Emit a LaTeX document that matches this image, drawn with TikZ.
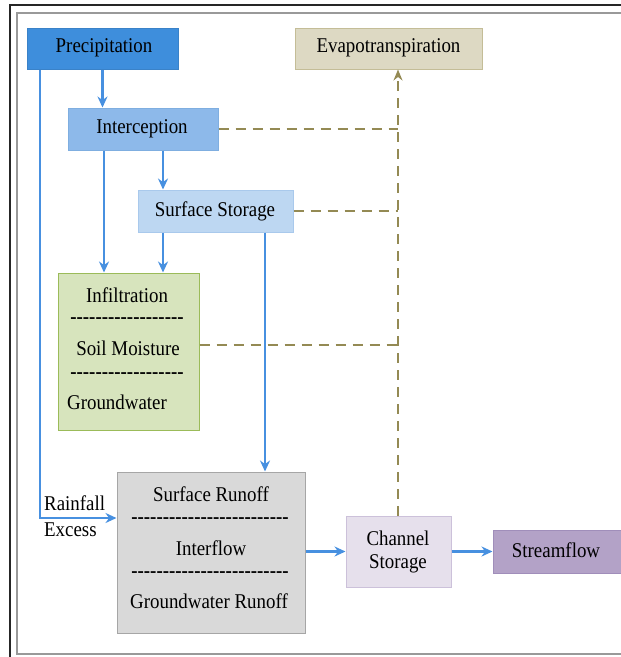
\documentclass[tikz,border=0pt]{standalone}
\usepackage{fontspec}
\setmainfont{Liberation Serif}[FakeStretch=0.9]
\newfontfamily\hyphfont{Liberation Serif}[FakeStretch=0.9]
\usetikzlibrary{arrows.meta}
\definecolor{cPrec}{HTML}{3E8EDC}
\definecolor{cPrecB}{HTML}{3A82C8}
\definecolor{cInt}{HTML}{8DB9EA}
\definecolor{cIntB}{HTML}{7FAEE0}
\definecolor{cSto}{HTML}{BDD7F2}
\definecolor{cStoB}{HTML}{A9C9EC}
\definecolor{cInf}{HTML}{D7E4BD}
\definecolor{cInfB}{HTML}{9BBB59}
\definecolor{cRun}{HTML}{D9D9D9}
\definecolor{cRunB}{HTML}{A6A6A6}
\definecolor{cCha}{HTML}{E6E0EC}
\definecolor{cChaB}{HTML}{CCC1DA}
\definecolor{cStr}{HTML}{B3A2C7}
\definecolor{cStrB}{HTML}{A08EBA}
\definecolor{cEva}{HTML}{DDD9C3}
\definecolor{cEvaB}{HTML}{C4BD97}
\definecolor{cFlow}{HTML}{4790E0}
\definecolor{cDash}{HTML}{948A54}
\tikzset{
  box/.style={draw, line width=1pt, inner sep=0pt, rectangle},
  lbl/.style={inner sep=0pt, font=\fontsize{21}{24}\selectfont},
  sep/.style={inner sep=0pt, font=\hyphfont\fontsize{21}{24}\selectfont\bfseries},
  flow/.style={draw=cFlow, line width=2.4pt, -{Stealth[length=11pt,width=10pt]}},
  evap/.style={draw=cDash, line width=2.8pt, dash pattern=on 10pt off 7pt},
}
\begin{document}
\begin{tikzpicture}[x=1pt,y=-1pt]
\useasboundingbox (0,0) rectangle (621,657);
% frame
\draw[line width=2pt, black!85] (10,657) -- (10,5) -- (625,5);
\draw[line width=1.5pt, black!40] (625,13) -- (17,13) -- (17,654) -- (625,654);
% boxes
\node[box, fill=cPrec, draw=cPrecB, minimum width=151pt, minimum height=41pt] (prec) at (102.5,48.5) {};
\node[lbl] (precT) at (104,48) {Precipitation};
\node[box, fill=cEva, draw=cEvaB, minimum width=187pt, minimum height=41pt] (evap) at (388.5,48.5) {};
\node[lbl] (evapT) at (388.5,48) {Evapotranspiration};
\node[box, fill=cInt, draw=cIntB, minimum width=150pt, minimum height=42pt] (inter) at (143,129) {};
\node[lbl] (interT) at (142,129) {Interception};
\node[box, fill=cSto, draw=cStoB, minimum width=155pt, minimum height=42pt] (store) at (215.5,211) {};
\node[lbl] (storeT) at (215,211) {Surface Storage};
\node[box, fill=cInf, draw=cInfB, minimum width=141pt, minimum height=157pt] (infil) at (128.5,351.5) {};
\node[lbl] (infA) at (127,295) {Infiltration};
\node[sep] (infS1) at (127,321) {------------------};
\node[lbl] (infB) at (128,348) {Soil Moisture};
\node[sep] (infS2) at (127,376) {------------------};
\node[lbl] (infC) at (117,402) {Groundwater};
\node[box, fill=cRun, draw=cRunB, minimum width=188pt, minimum height=161pt] (runoff) at (211,552.5) {};
\node[lbl] (runA) at (211,494) {Surface Runoff};
\node[sep] (runS1) at (210,521) {-------------------------};
\node[lbl] (runB) at (211,548) {Interflow};
\node[sep] (runS2) at (210,575) {-------------------------};
\node[lbl] (runC) at (209,601) {Groundwater Runoff};
\node[box, fill=cCha, draw=cChaB, minimum width=105pt, minimum height=71pt] (chan) at (398.5,551.5) {};
\node[lbl] (chanA) at (398,538) {Channel};
\node[lbl] (chanB) at (398,564) {Storage};
\node[box, fill=cStr, draw=cStrB, minimum width=135pt, minimum height=43pt] (stream) at (560.5,551.5) {};
\node[lbl] (streamT) at (556,550) {Streamflow};
\node[lbl, anchor=west] (rain) at (44,503) {Rainfall};
\node[lbl, anchor=west] (exc) at (44,530) {Excess};
% blue flows
\draw[flow] (prec.south) -- (prec.south |- inter.north);
\draw[flow] ([xshift=-62.5pt]prec.south) |- ([yshift=34.5pt]runoff.west);
\draw[flow] ([xshift=20pt]inter.south) -- ([xshift=20pt]inter.south |- store.north);
\draw[flow] ([xshift=-39pt]inter.south) -- ([xshift=-39pt]inter.south |- infil.north);
\draw[flow] ([xshift=-52.5pt]store.south) -- ([xshift=-52.5pt]store.south |- infil.north);
\draw[flow] ([xshift=49.5pt]store.south) -- ([xshift=49.5pt]store.south |- runoff.north);
\draw[flow] (runoff.east |- chan.west) -- (chan.west);
\draw[flow] (chan.east) -- (stream.west |- chan.east);
% dashed evapotranspiration
\coordinate (vx) at (398,0);
\draw[evap, -{Stealth[length=11pt,width=9pt]}] (chan.north -| vx) -- (evap.south -| vx);
\draw[evap] (inter.east) -- (inter.east -| vx);
\draw[evap] (store.east) -- (store.east -| vx);
\draw[evap] ([yshift=6.5pt]infil.east) -- ([yshift=6.5pt]infil.east -| vx);
\end{tikzpicture}
\end{document}
